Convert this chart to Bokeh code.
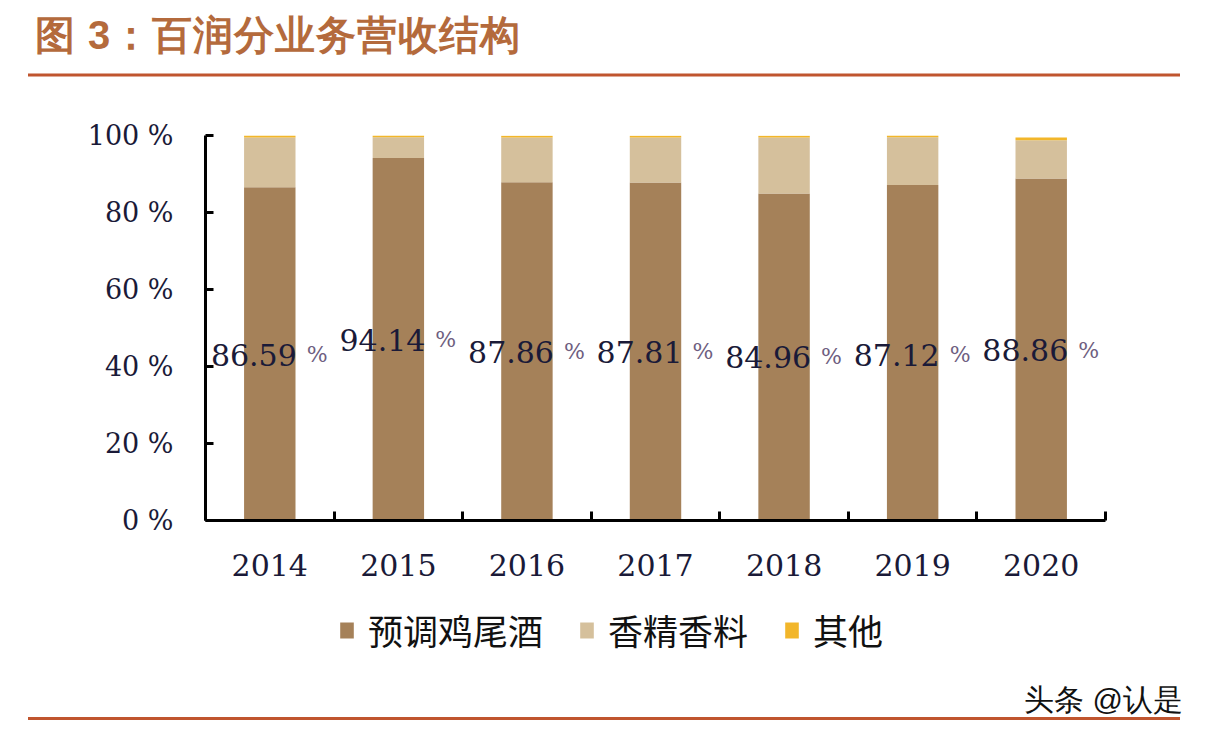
from bokeh.plotting import figure
from bokeh.layouts import column
from bokeh.models import (Range1d, FixedTicker, Legend, LegendItem, ColumnDataSource, Div)
from bokeh.core.properties import value
from bokeh.embed import file_html
from bokeh.resources import INLINE

# ---- data ----
years = ["2014", "2015", "2016", "2017", "2018", "2019", "2020"]
cocktail = [86.59, 94.14, 87.86, 87.81, 84.96, 87.12, 88.86]   # 预调鸡尾酒
flavor = [12.90, 5.40, 11.60, 11.70, 14.50, 12.40, 9.90]       # 香精香料
other = [0.50, 0.45, 0.50, 0.45, 0.50, 0.45, 0.75]             # 其他
series_names = ["预调鸡尾酒", "香精香料", "其他"]
y_ticks = [0, 20, 40, 60, 80, 100]
title_text = "图 3：百润分业务营收结构"
watermark = "头条 @认是"

# ---- layout / style ----
W = 1190
colors = ["#a58159", "#d5c09c", "#f2b62a"]
label_y = [43.0, 47.0, 43.8, 43.8, 42.5, 43.0, 44.2]
txt_color = "#1a1a38"
title_color = "#b46a3c"
rule_color = "#c0552e"
CJK = "Noto Sans CJK SC"
div_style = {"margin": "0", "padding": "0", "overflow": "hidden", "display": "block"}

# ---- top: title + rule (inline SVG) ----
top_svg = (
    f'<svg xmlns="http://www.w3.org/2000/svg" width="{W}" height="100" style="display:block">'
    f'<text x="35" y="38" dominant-baseline="middle" font-family="{CJK}" font-weight="bold" '
    f'font-size="40px" letter-spacing="1" fill="{title_color}">{title_text}</text>'
    f'<line x1="28" y1="75" x2="1180" y2="75" stroke="{rule_color}" stroke-width="3"/>'
    f'</svg>'
)
top = Div(text=top_svg, width=W, height=100, margin=(0, 0, 0, 0), styles=div_style)

# ---- main chart ----
idx = list(range(len(years)))
src = ColumnDataSource(dict(
    x=idx, cocktail=cocktail, flavor=flavor, other=other,
    label=[f"{v:.2f}" for v in cocktail], ly=label_y,
))

p = figure(width=W, height=500,
           x_range=Range1d(-0.5, len(years) - 0.5), y_range=Range1d(0, 100),
           output_backend="svg", toolbar_location=None,
           min_border_left=205, min_border_right=85,
           min_border_top=35, min_border_bottom=80)
p.outline_line_color = None
p.grid.visible = False
p.background_fill_color = "white"
p.border_fill_color = "white"

renderers = p.vbar_stack(["cocktail", "flavor", "other"], x="x", width=0.4,
                         fill_color=colors, line_color=None, source=src)

xa = p.xaxis[0]
xa.ticker = FixedTicker(ticks=idx, minor_ticks=[i - 0.5 for i in range(len(years) + 1)])
xa.major_label_overrides = {i: y for i, y in enumerate(years)}
xa.major_tick_line_color = None
xa.major_tick_in = 0
xa.major_tick_out = 0
xa.minor_tick_in = 9
xa.minor_tick_out = 0
xa.minor_tick_line_width = 3
xa.minor_tick_line_color = "black"
xa.axis_line_width = 3
xa.axis_line_color = "black"
xa.major_label_text_font = "DejaVu Serif"
xa.major_label_text_font_size = "30px"
xa.major_label_text_color = txt_color
xa.major_label_standoff = 33

ya = p.yaxis[0]
ya.ticker = FixedTicker(ticks=y_ticks)
ya.major_label_overrides = {t: f"{t} %" for t in y_ticks}
ya.major_tick_in = 8
ya.major_tick_out = 0
ya.major_tick_line_width = 3
ya.major_tick_line_color = "black"
ya.minor_tick_line_color = None
ya.axis_line_width = 3
ya.axis_line_color = "black"
ya.major_label_text_font = "DejaVu Serif"
ya.major_label_text_font_size = "27px"
ya.major_label_text_color = txt_color
ya.major_label_standoff = 32

p.text(x="x", y="ly", text="label", source=src, x_offset=27,
       text_align="right", text_baseline="middle",
       text_font=value("DejaVu Serif"), text_font_size="30px", text_color=txt_color)
p.text(x="x", y="ly", text=value("%"), source=src, x_offset=37,
       text_align="left", text_baseline="middle",
       text_font=value("DejaVu Serif"), text_font_size="22px", text_color="#6e5e80")

# ---- legend strip (frame aligned with the chart's frame) ----
leg = figure(width=W, height=80, x_range=Range1d(0, 1), y_range=Range1d(0, 1),
             x_axis_type=None, y_axis_type=None, output_backend="svg",
             toolbar_location=None, min_border_left=205, min_border_right=85,
             min_border_top=0, min_border_bottom=0)
leg.outline_line_color = None
leg.grid.visible = False
leg.background_fill_color = "white"
leg.border_fill_color = "white"
# zero-height swatch renderers, only used to give the legend its colours
leg_r = [leg.vbar(x=[0.5], top=[-5], bottom=[-5], width=0.0, fill_color=c, line_color=None)
         for c in colors]
legend = Legend(items=[LegendItem(label=n, renderers=[r]) for n, r in zip(series_names, leg_r)],
                location=(133, 25), orientation="horizontal",
                glyph_width=17, glyph_height=20, label_height=20, label_standoff=13,
                spacing=35, padding=0, margin=0, border_line_color=None,
                background_fill_alpha=0, label_text_font=CJK,
                label_text_font_size="35px", label_text_color="#111111",
                label_text_baseline="middle")
leg.add_layout(legend)

# ---- bottom: watermark + rule (inline SVG) ----
bot_svg = (
    f'<svg xmlns="http://www.w3.org/2000/svg" width="{W}" height="44" style="display:block">'
    f'<text x="1183" y="22" dominant-baseline="middle" text-anchor="end" font-family="{CJK}" '
    f'font-size="30px" fill="#111111">{watermark}</text>'
    f'<line x1="28" y1="38.5" x2="1180" y2="38.5" stroke="{rule_color}" stroke-width="3"/>'
    f'</svg>'
)
bot = Div(text=bot_svg, width=W, height=44, margin=(0, 0, 0, 0), styles=div_style)

layout = column(top, p, leg, bot, spacing=0)
open("out.html", "w").write(file_html(layout, INLINE))
